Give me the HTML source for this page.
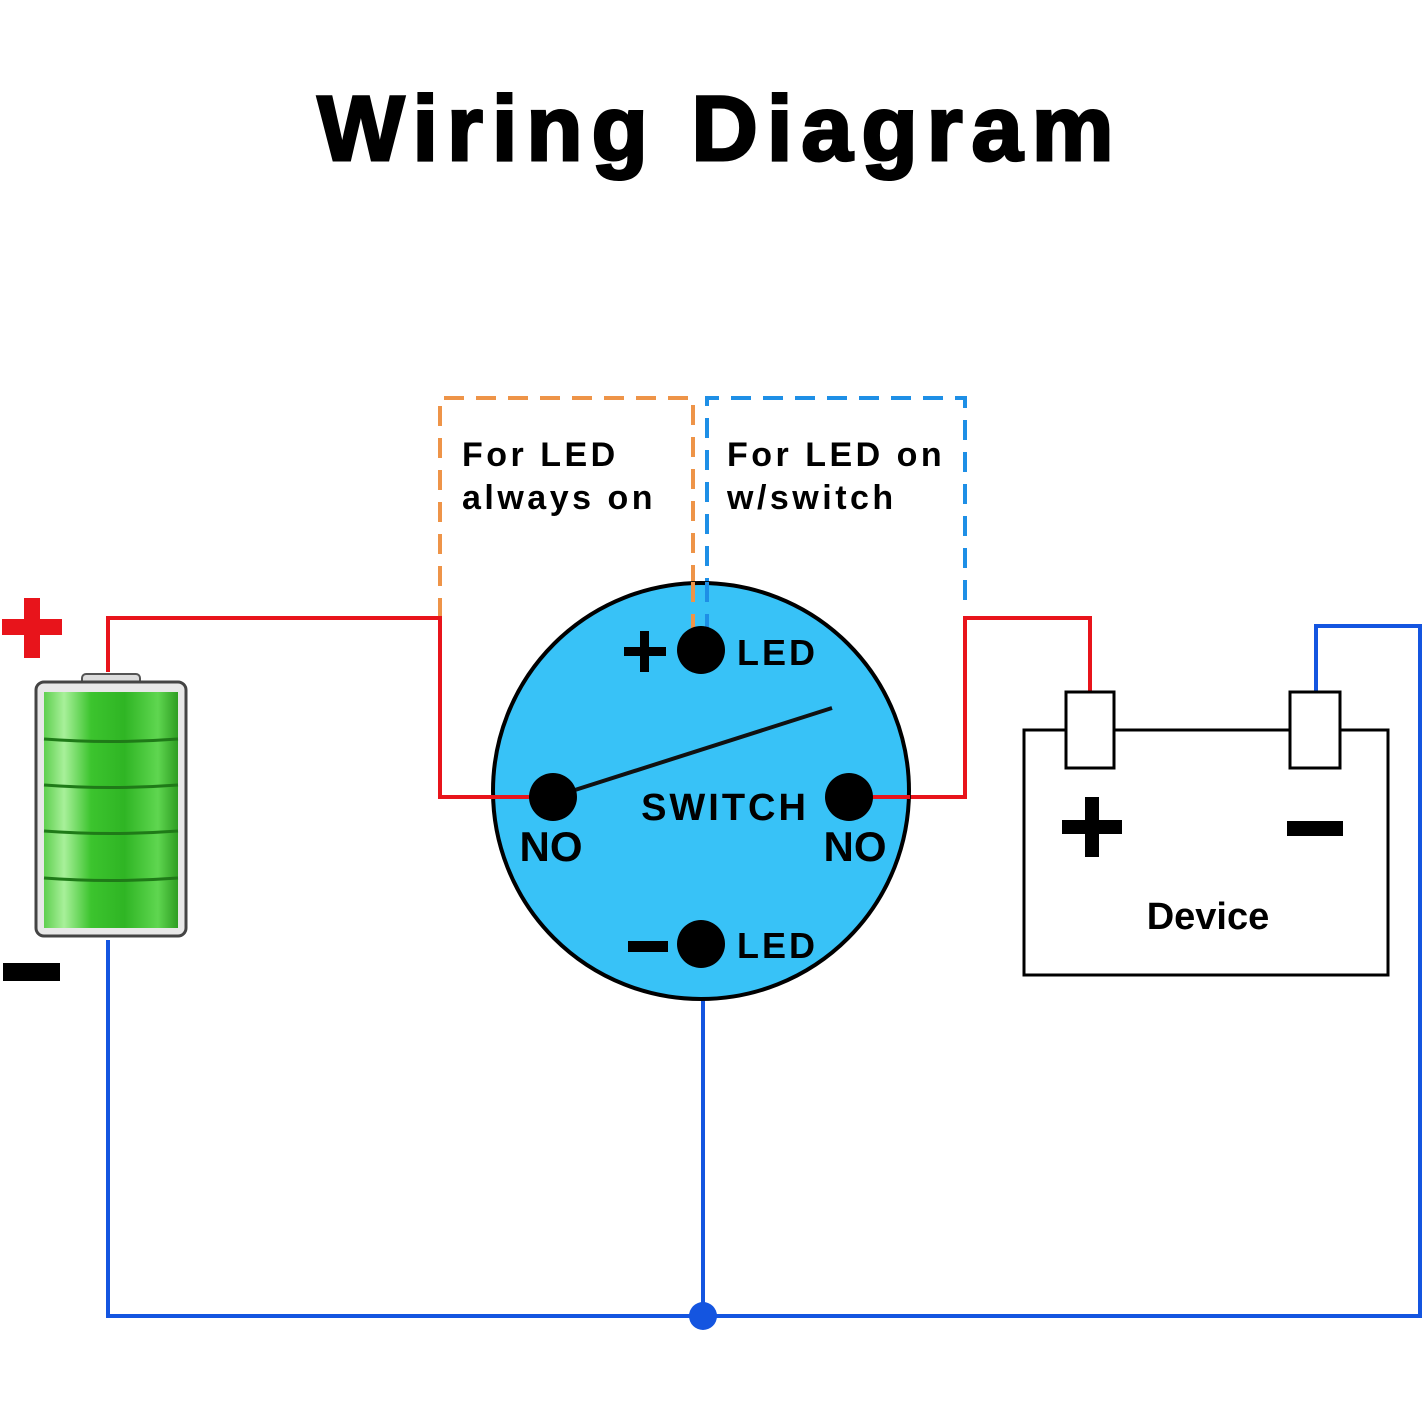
<!DOCTYPE html>
<html><head><style>body{margin:0;background:#fff}svg{display:block}</style></head><body>
<svg width="1424" height="1424" viewBox="0 0 1424 1424" xmlns="http://www.w3.org/2000/svg" font-family="Liberation Sans, sans-serif" font-weight="bold">
<defs>
<linearGradient id="g" x1="0" x2="1">
<stop offset="0" stop-color="#5fcf4f"/><stop offset="0.15" stop-color="#a8f09a"/><stop offset="0.35" stop-color="#3cc42e"/><stop offset="0.6" stop-color="#2fb524"/><stop offset="0.85" stop-color="#5fd650"/><stop offset="1" stop-color="#2e9e22"/>
</linearGradient>
</defs>
<text x="720" y="160" font-size="92" text-anchor="middle" letter-spacing="9" stroke="#000" stroke-width="3">Wiring Diagram</text>
<!-- dashed boxes -->
<path d="M440 618 V398 H693 V630" fill="none" stroke="#ee9448" stroke-width="4" stroke-dasharray="20 12"/>
<path d="M707 630 V398 H965 V612" fill="none" stroke="#1e8fe6" stroke-width="4" stroke-dasharray="20 12"/>
<text x="462" y="466" font-size="34" letter-spacing="3.5">For LED</text>
<text x="462" y="509" font-size="34" letter-spacing="3.5">always on</text>
<text x="727" y="466" font-size="34" letter-spacing="3.5">For LED on</text>
<text x="727" y="509" font-size="34" letter-spacing="3.5">w/switch</text>
<!-- red wires -->
<path d="M108 672 V618 H440 V797 H530" fill="none" stroke="#e8141b" stroke-width="4"/>
<path d="M872 797 H965 V618 H1090 V692" fill="none" stroke="#e8141b" stroke-width="4"/>
<!-- blue wires -->
<path d="M108 940 V1316 H1420 V626 H1316 V692" fill="none" stroke="#1455e0" stroke-width="4"/>
<path d="M703 968 V1316" fill="none" stroke="#1455e0" stroke-width="4"/>
<circle cx="703" cy="1316" r="14" fill="#1455e0"/>
<!-- switch -->
<circle cx="701" cy="791" r="208" fill="#38c2f7" stroke="#000" stroke-width="4"/>
<path d="M693 582 V630" stroke="#ee9448" stroke-width="4" stroke-dasharray="20 12"/>
<path d="M707 582 V630" stroke="#1e8fe6" stroke-width="4" stroke-dasharray="20 12"/>
<path d="M490 797 H530" stroke="#e8141b" stroke-width="4"/>
<path d="M872 797 H910" stroke="#e8141b" stroke-width="4"/>
<line x1="553" y1="797" x2="832" y2="708" stroke="#111" stroke-width="4"/>
<circle cx="701" cy="650" r="24" fill="#000"/>
<circle cx="553" cy="797" r="24" fill="#000"/>
<circle cx="849" cy="797" r="24" fill="#000"/>
<circle cx="701" cy="944" r="24" fill="#000"/>
<rect x="624" y="647" width="42" height="9" fill="#000"/><rect x="640" y="631" width="9" height="41" fill="#000"/>
<rect x="628" y="941" width="40" height="11" fill="#000"/>
<text x="737" y="665" font-size="36" letter-spacing="3">LED</text>
<text x="737" y="958" font-size="36" letter-spacing="3">LED</text>
<text x="725" y="820" font-size="38" text-anchor="middle" letter-spacing="3">SWITCH</text>
<text x="551" y="861" font-size="42" text-anchor="middle">NO</text>
<text x="855" y="861" font-size="42" text-anchor="middle">NO</text>
<!-- battery signs -->
<rect x="2" y="619" width="60" height="16" fill="#e8141b"/><rect x="24" y="598" width="16" height="60" fill="#e8141b"/>
<rect x="3" y="963" width="57" height="18" fill="#000"/>
<!-- battery -->
<rect x="82" y="674" width="58" height="14" rx="4" fill="#ddd" stroke="#555" stroke-width="2"/>
<rect x="36" y="682" width="150" height="254" rx="8" fill="#e8e8e8" stroke="#444" stroke-width="3"/>
<rect x="44" y="692" width="134" height="236" fill="url(#g)"/>
<g stroke="#1f7a18" stroke-width="3" fill="none">
<path d="M44 739 Q111 744 178 739"/><path d="M44 785 Q111 790 178 785"/><path d="M44 831 Q111 836 178 831"/><path d="M44 878 Q111 883 178 878"/>
</g>
<!-- device -->
<rect x="1024" y="730" width="364" height="245" fill="#fff" stroke="#000" stroke-width="3"/>
<rect x="1066" y="692" width="48" height="76" fill="#fff" stroke="#000" stroke-width="3"/>
<rect x="1290" y="692" width="50" height="76" fill="#fff" stroke="#000" stroke-width="3"/>
<rect x="1062" y="820" width="60" height="14" fill="#000"/><rect x="1085" y="797" width="14" height="60" fill="#000"/>
<rect x="1287" y="821" width="56" height="15" fill="#000"/>
<text x="1208" y="929" font-size="38" text-anchor="middle">Device</text>
</svg>
</body></html>
